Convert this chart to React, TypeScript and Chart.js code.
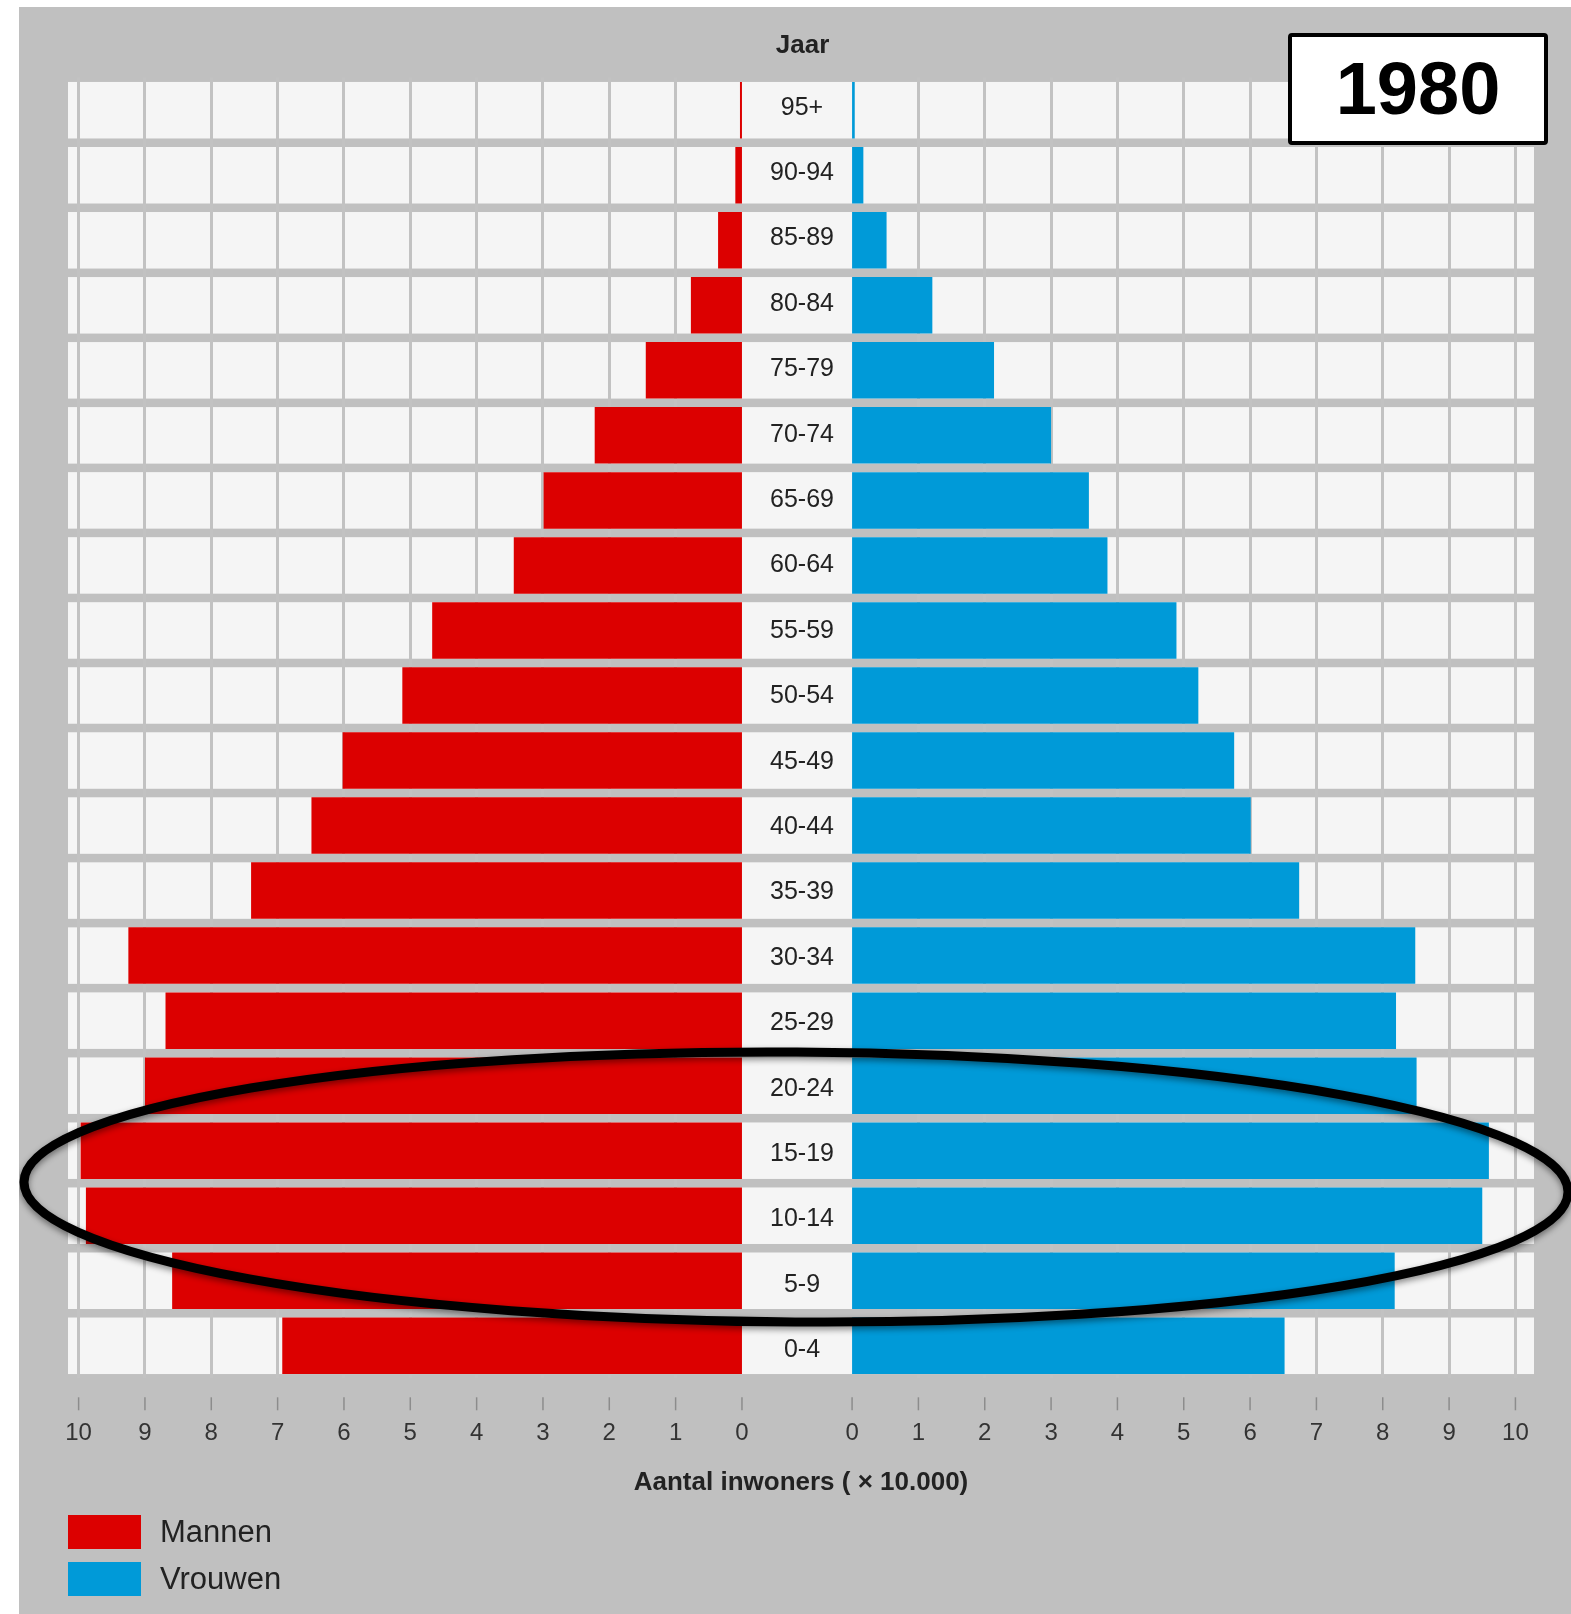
import React, { useEffect, useRef } from 'react';
import { Chart, registerables } from 'chart.js';

Chart.register(...registerables);

// ---- data ----
const ageGroups = ['95+', '90-94', '85-89', '80-84', '75-79', '70-74', '65-69', '60-64', '55-59', '50-54', '45-49', '40-44', '35-39', '30-34', '25-29', '20-24', '15-19', '10-14', '5-9', '0-4'];
const mannen = [0.03, 0.1, 0.36, 0.77, 1.45, 2.22, 2.99, 3.44, 4.67, 5.12, 6.02, 6.49, 7.4, 9.25, 8.69, 9.0, 9.97, 9.89, 8.59, 6.93];
const vrouwen = [0.04, 0.17, 0.52, 1.21, 2.14, 3.0, 3.57, 3.85, 4.89, 5.22, 5.76, 6.01, 6.74, 8.49, 8.2, 8.51, 9.6, 9.5, 8.18, 6.52];
const tickLabels = [0, 1, 2, 3, 4, 5, 6, 7, 8, 9, 10];
const seriesNames = ['Mannen', 'Vrouwen'];
const axisTitle = 'Aantal inwoners ( × 10.000)';
const columnTitle = 'Jaar';
const yearLabel = '1980';

// ---- style / layout constants ----
const RED = '#dc0000';
const BLUE = '#009ad8';
const BG = '#c0c0c0';
const CELL = '#f5f5f5';
const FONT = "'Liberation Sans', Arial, Helvetica, sans-serif";
const W = 1552;
const H = 1607;
const HALF_GAP = 0.83;
const X_MIN = -10.99;
const X_MAX = 11.11;
const BAR_PCT = 0.869;
const AREA_TOP = 70.7;
const AREA_BOTTOM = 1371.3;

const decorPlugin = {
  id: 'decor',
  beforeDraw(chart: any) {
    const { ctx, chartArea } = chart;
    const y = chart.scales.y;
    const band = Math.abs(y.getPixelForValue(1) - y.getPixelForValue(0));
    const cellH = band * BAR_PCT;
    ctx.save();
    ctx.fillStyle = CELL;
    ageGroups.forEach((_, i) => {
      const cy = y.getPixelForValue(i);
      ctx.fillRect(chartArea.left, cy - cellH / 2, chartArea.right - chartArea.left, cellH);
    });
    ctx.restore();
  },
  afterDatasetsDraw(chart: any) {
    const { ctx, chartArea } = chart;
    const x = chart.scales.x;
    const y = chart.scales.y;
    const cx = (x.getPixelForValue(-HALF_GAP) + x.getPixelForValue(HALF_GAP)) / 2 + 5;
    ctx.save();
    ctx.fillStyle = '#222';
    ctx.textAlign = 'center';
    ctx.textBaseline = 'alphabetic';
    ctx.font = `25px ${FONT}`;
    ageGroups.forEach((lab, i) => {
      const cy = y.getPixelForValue(i);
      ctx.fillText(lab, cx, cy + 4.5 + i * 0.36);
    });
    ctx.font = `bold 26px ${FONT}`;
    ctx.fillText(columnTitle, cx + 0.5, 46.3);
    // tick marks below the plot
    ctx.strokeStyle = '#8c8c8c';
    ctx.lineWidth = 1.5;
    x.ticks.forEach((t: any) => {
      const px = x.getPixelForValue(t.value);
      ctx.beginPath();
      ctx.moveTo(px, chartArea.bottom + 19);
      ctx.lineTo(px, chartArea.bottom + 32);
      ctx.stroke();
    });
    ctx.restore();
  },
  afterDraw(chart: any) {
    const { ctx } = chart;
    ctx.save();
    ctx.shadowColor = 'rgba(0,0,0,0.45)';
    ctx.shadowBlur = 6;
    ctx.shadowOffsetY = 3;
    ctx.strokeStyle = '#000';
    ctx.lineWidth = 9;
    ctx.beginPath();
    ctx.ellipse(777, 1180, 772, 135, 0.0065, 0, Math.PI * 2);
    ctx.stroke();
    ctx.restore();
  },
};

export default function App() {
  const ref = useRef<HTMLCanvasElement | null>(null);

  useEffect(() => {
    if (!ref.current) return;
    const tickValues: number[] = [];
    for (let k = tickLabels.length - 1; k >= 0; k--) tickValues.push(-(HALF_GAP + tickLabels[k]));
    for (let k = 0; k < tickLabels.length; k++) tickValues.push(HALF_GAP + tickLabels[k]);

    const chart = new Chart(ref.current, {
      type: 'bar',
      data: {
        labels: ageGroups,
        datasets: [
          {
            label: seriesNames[0],
            data: mannen.map((v) => [-(HALF_GAP + v), -HALF_GAP]) as any,
            backgroundColor: RED,
            borderWidth: 0,
          },
          {
            label: seriesNames[1],
            data: vrouwen.map((v) => [HALF_GAP, HALF_GAP + v]) as any,
            backgroundColor: BLUE,
            borderWidth: 0,
          },
        ],
      },
      options: {
        indexAxis: 'y',
        responsive: false,
        animation: false,
        layout: { padding: { left: 49, right: 37, top: AREA_TOP, bottom: 0 } },
        datasets: {
          bar: { grouped: false, categoryPercentage: 1, barPercentage: BAR_PCT },
        } as any,
        plugins: {
          legend: { display: false },
          tooltip: { enabled: false },
          title: { display: false },
        },
        scales: {
          x: {
            type: 'linear',
            min: X_MIN,
            max: X_MAX,
            afterBuildTicks: (s: any) => {
              s.ticks = tickValues.map((v) => ({ value: v }));
            },
            afterFit: (s: any) => {
              s.height = H - AREA_BOTTOM;
            },
            grid: {
              lineWidth: 3,
              drawTicks: false,
              color: (c: any) => {
                if (!c.tick) return 'rgba(0,0,0,0)';
                return Math.abs(Math.abs(c.tick.value) - HALF_GAP) < 1e-6 ? 'rgba(0,0,0,0)' : '#c2c2c2';
              },
            },
            border: { display: false },
            ticks: {
              autoSkip: false,
              maxRotation: 0,
              minRotation: 0,
              padding: 41,
              color: '#333',
              font: { family: FONT, size: 24 },
              callback: (value: any) => String(Math.round(Math.abs(Number(value)) - HALF_GAP)),
            },
            title: {
              display: true,
              text: axisTitle,
              color: '#222',
              font: { family: FONT, size: 26, weight: 'bold' },
              padding: { top: 0, bottom: 116 },
            },
          },
          y: {
            type: 'category',
            display: false,
            offset: true,
            grid: { display: false },
          },
        },
      } as any,
      plugins: [decorPlugin],
    });
    return () => chart.destroy();
  }, []);

  const legendColors = [RED, BLUE];
  const legendTops = [1508, 1555];

  return (
    <div
      style={{
        position: 'absolute',
        left: 19,
        top: 7,
        width: W,
        height: H,
        background: BG,
        overflow: 'hidden',
        fontFamily: FONT,
      }}
    >
      <canvas ref={ref} width={W} height={H} style={{ position: 'absolute', left: 0, top: 0, width: W, height: H }} />
      <div
        style={{
          position: 'absolute',
          left: 1269,
          top: 26,
          width: 260,
          height: 112,
          boxSizing: 'border-box',
          border: '4px solid #000',
          borderRadius: 4,
          background: '#fff',
          display: 'flex',
          alignItems: 'center',
          justifyContent: 'center',
          fontWeight: 'bold',
          fontSize: 74,
          lineHeight: 1,
          color: '#000',
        }}
      >
        {yearLabel}
      </div>
      {seriesNames.map((name, i) => (
        <React.Fragment key={name}>
          <div
            style={{
              position: 'absolute',
              left: 49,
              top: legendTops[i],
              width: 73,
              height: 34,
              background: legendColors[i],
            }}
          />
          <div
            style={{
              position: 'absolute',
              left: 141,
              top: legendTops[i],
              height: 34,
              lineHeight: '34px',
              fontSize: 31,
              color: '#222',
              whiteSpace: 'nowrap',
            }}
          >
            {name}
          </div>
        </React.Fragment>
      ))}
    </div>
  );
}
